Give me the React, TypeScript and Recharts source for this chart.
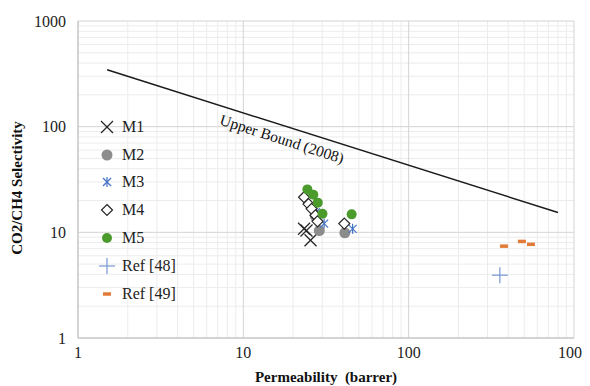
import React from 'react';
import { ScatterChart, Scatter, XAxis, YAxis, ReferenceLine, ReferenceDot } from 'recharts';

// values (log-log axes)
const m1Perm = [23.3, 24.1, 25.5];
const m1Sel = [10.8, 10.4, 8.4];
const m2Perm = [27.3, 28.8, 41.1];
const m2Sel = [14.2, 10.4, 9.9];
const m3Perm = [27.5, 30.8, 45.8];
const m3Sel = [15.5, 12.1, 10.8];
const m4Perm = [23.3, 24.8, 25.9, 27.3, 28.1, 40.8];
const m4Sel = [21.5, 18.5, 16.7, 14.5, 12.7, 12.1];
const m5Perm = [24.4, 26.5, 28.2, 30.1, 45.2];
const m5Sel = [25.5, 22.7, 19.1, 15.0, 14.8];
const ref48Perm = [356];
const ref48Sel = [3.93];
const ref49Perm = [377, 484, 549];
const ref49Sel = [7.4, 8.2, 7.7];
const boundPerm = [1.5, 800];
const boundSel = [345, 15.4];

const decadeTicks = [1, 10, 100, 1000];
const minorTicks = [2, 3, 4, 5, 6, 7, 8, 9, 20, 30, 40, 50, 60, 70, 80, 90, 200, 300, 400, 500, 600, 700, 800, 900];

const pairs = (xs: number[], ys: number[]) => xs.map((x, i) => ({ x, y: ys[i] }));

const FONT = '"Liberation Serif", "Times New Roman", serif';

const drawMarker = (kind: string, cx: number, cy: number) => {
  switch (kind) {
    case 'cross':
      return (
        <g>
          <line x1={cx - 6} y1={cy - 6} x2={cx + 6} y2={cy + 6} stroke="#262626" strokeWidth={1.3} />
          <line x1={cx - 6} y1={cy + 6} x2={cx + 6} y2={cy - 6} stroke="#262626" strokeWidth={1.3} />
        </g>
      );
    case 'gray':
      return <circle cx={cx} cy={cy} r={5.5} fill="#8c8c8c" />;
    case 'star':
      return (
        <g stroke="#4472c4" strokeWidth={1.2}>
          <line x1={cx - 4} y1={cy - 4} x2={cx + 4} y2={cy + 4} />
          <line x1={cx - 4} y1={cy + 4} x2={cx + 4} y2={cy - 4} />
          <line x1={cx} y1={cy - 5} x2={cx} y2={cy + 5} />
        </g>
      );
    case 'diamond':
      return (
        <polygon
          points={`${cx},${cy - 5.5} ${cx + 5.5},${cy} ${cx},${cy + 5.5} ${cx - 5.5},${cy}`}
          fill="#fff"
          stroke="#262626"
          strokeWidth={1.2}
        />
      );
    case 'green':
      return <circle cx={cx} cy={cy} r={5} fill="#4a9a2c" />;
    case 'plus':
      return (
        <g stroke="#7f9ed4" strokeWidth={1.3}>
          <line x1={cx - 8} y1={cy} x2={cx + 8} y2={cy} />
          <line x1={cx} y1={cy - 8} x2={cx} y2={cy + 8} />
        </g>
      );
    case 'dash':
      return <rect x={cx - 4} y={cy - 1.75} width={8} height={3.5} fill="#e07b39" />;
    default:
      return <g />;
  }
};

const series = [
  { name: 'M1', kind: 'cross', data: pairs(m1Perm, m1Sel) },
  { name: 'M2', kind: 'gray', data: pairs(m2Perm, m2Sel) },
  { name: 'M3', kind: 'star', data: pairs(m3Perm, m3Sel) },
  { name: 'M4', kind: 'diamond', data: pairs(m4Perm, m4Sel) },
  { name: 'M5', kind: 'green', data: pairs(m5Perm, m5Sel) },
  { name: 'Ref [48]', kind: 'plus', data: pairs(ref48Perm, ref48Sel) },
  { name: 'Ref [49]', kind: 'dash', data: pairs(ref49Perm, ref49Sel) },
];

// legend sits inside the plot, drawn as an overlay
const LegendBox = () => (
  <div style={{ position: 'absolute', left: 90, top: 105, fontFamily: FONT, fontSize: 16, color: '#222' }}>
    {series.map(s => (
      <div key={s.name} style={{ display: 'flex', alignItems: 'center', height: 27.8 }}>
        <svg width={18} height={18} style={{ marginRight: 6 }}>
          {drawMarker(s.kind, 9, 9)}
        </svg>
        <span>{s.name}</span>
      </div>
    ))}
  </div>
);

const tickStyle = { fontFamily: FONT, fontSize: 16, fill: '#222' };

export default function App() {
  return (
    <div style={{ position: 'relative', width: 582, height: 378, background: '#fff' }}>
      <ScatterChart width={582} height={378} margin={{ top: 13, right: 16, bottom: 0, left: 0 }}>
        {minorTicks.map(v => (
          <ReferenceLine key={'hy' + v} y={v} stroke="#ececec" ifOverflow="hidden" />
        ))}
        {minorTicks.map(v => (
          <ReferenceLine key={'vx' + v} x={v} stroke="#ececec" ifOverflow="hidden" />
        ))}
        {decadeTicks.map(v => (
          <ReferenceLine key={'HY' + v} y={v} stroke="#d4d4d4" />
        ))}
        {decadeTicks.map(v => (
          <ReferenceLine key={'VX' + v} x={v} stroke="#d4d4d4" />
        ))}
        <XAxis
          type="number"
          dataKey="x"
          scale="log"
          domain={[1, 1000]}
          ticks={decadeTicks}
          allowDataOverflow
          tickLine={false}
          tickSize={0}
          tickMargin={9}
          height={48}
          axisLine={{ stroke: '#bfbfbf' }}
          tick={tickStyle}
          label={{
            content: (p: any) => (
              <text
                x={p.viewBox.x + p.viewBox.width / 2}
                y={p.viewBox.y + 41}
                textAnchor="middle"
                dominantBaseline="middle"
                fontFamily={FONT}
                fontSize={15}
                fontWeight="bold"
                fill="#111"
                style={{ whiteSpace: 'pre' }}
              >
                Permeability  (barrer)
              </text>
            ),
          }}
        />
        <YAxis
          type="number"
          dataKey="y"
          scale="log"
          domain={[1, 1000]}
          ticks={decadeTicks}
          allowDataOverflow
          tickLine={false}
          tickSize={0}
          tickMargin={12}
          width={70}
          axisLine={{ stroke: '#bfbfbf' }}
          tick={tickStyle}
          label={{
            content: (p: any) => {
              const cx = p.viewBox.x + 11;
              const cy = p.viewBox.y + p.viewBox.height / 2 + 8.5;
              return (
                <text
                  x={cx}
                  y={cy}
                  transform={`rotate(-90 ${cx} ${cy})`}
                  textAnchor="middle"
                  dominantBaseline="middle"
                  fontFamily={FONT}
                  fontSize={15}
                  fontWeight="bold"
                  fill="#111"
                >
                  CO2/CH4 Selectivity
                </text>
              );
            },
          }}
        />
        <Scatter
          name="Upper Bound (2008)"
          data={pairs(boundPerm, boundSel)}
          line={{ stroke: '#1a1a1a', strokeWidth: 1.5 }}
          shape={() => <g />}
          legendType="none"
          isAnimationActive={false}
        />
        {series.map(s => (
          <Scatter
            key={s.name}
            name={s.name}
            data={s.data}
            shape={(p: any) => drawMarker(s.kind, p.cx, p.cy)}
            isAnimationActive={false}
          />
        ))}
        <ReferenceDot
          x={17}
          y={73.8}
          r={0}
          ifOverflow="visible"
          shape={(p: any) => (
            <text
              x={p.cx}
              y={p.cy}
              transform={`rotate(17.8 ${p.cx} ${p.cy})`}
              textAnchor="middle"
              dominantBaseline="middle"
              fontFamily={FONT}
              fontSize={15.5}
              fill="#111"
            >
              Upper Bound (2008)
            </text>
          )}
        />
      </ScatterChart>
      <LegendBox />
    </div>
  );
}
